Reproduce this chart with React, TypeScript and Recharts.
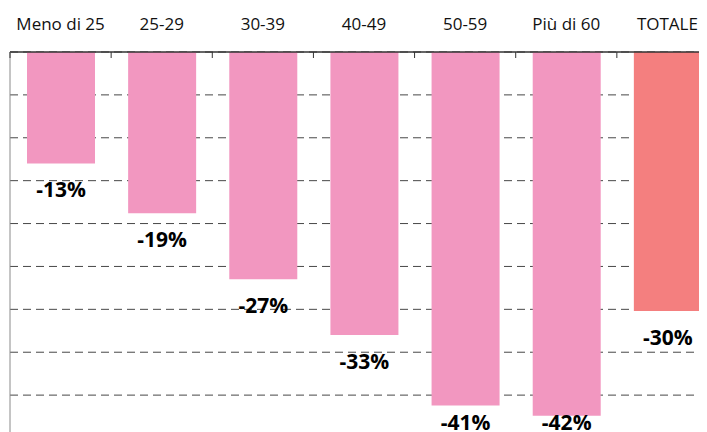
import React from 'react';
import { BarChart, Bar, XAxis, YAxis, CartesianGrid, Cell, LabelList } from 'recharts';

const categories = ['Meno di 25', '25-29', '30-39', '40-49', '50-59', 'Più di 60', 'TOTALE'];
const variation = [-13.0, -18.8, -26.5, -33.0, -41.2, -42.4, -30.2];
const valueLabels = ['-13%', '-19%', '-27%', '-33%', '-41%', '-42%', '-30%'];
const barColors = ['#F297C0', '#F297C0', '#F297C0', '#F297C0', '#F297C0', '#F297C0', '#F47F7F'];
const yTicks = [0, -5, -10, -15, -20, -25, -30, -35, -40, -45];

const data = categories.map((c, i) => ({ name: c, value: variation[i], label: valueLabels[i] }));

const CHART_W = 710;
const CHART_H = 432;
const AXIS_H = 44;
const TICK_SIZE = 4;
const TICK_MARGIN = 2;
const FONT = '"Open Sans", "Noto Sans", sans-serif';

const CategoryTick = (props: any) => {
  const { x, y, payload } = props;
  const axisY = y + TICK_SIZE + TICK_MARGIN;
  const half = payload && payload.offset ? payload.offset : (CHART_W - 2) / categories.length / 2;
  return (
    <g>
      <line x1={x - half} x2={x - half} y1={axisY} y2={axisY + 6} stroke="#333" strokeWidth={1} />
      <text x={x} y={axisY - 22.5} textAnchor="middle" fontFamily={FONT} fontSize={17} fill="#111">
        {payload.value}
      </text>
    </g>
  );
};

const EmptyTick = () => <g />;

const ValueLabel = (props: any) => {
  const { x, y, width, height, index } = props;
  const bottom = Math.max(y, y + height);
  const baseline = Math.min(bottom + 33.5, CHART_H - 10);
  return (
    <text
      x={x + width / 2}
      y={baseline}
      textAnchor="middle"
      fontFamily={FONT}
      fontWeight="bold"
      fontSize={21}
      fill="#000"
    >
      {valueLabels[index]}
    </text>
  );
};

export default function App() {
  return (
    <div style={{ width: 699, height: 424, overflow: 'hidden' }}>
      <BarChart
        width={CHART_W}
        height={CHART_H}
        data={data}
        margin={{ top: 0, right: 0, bottom: 2, left: 1 }}
      >
        <CartesianGrid horizontal vertical={false} stroke="#474747" strokeDasharray="8 5" />
        <XAxis
          dataKey="name"
          orientation="top"
          height={AXIS_H}
          tickSize={TICK_SIZE}
          tickMargin={TICK_MARGIN}
          tickLine={false}
          axisLine={{ stroke: '#333', strokeWidth: 1.3 }}
          tick={<CategoryTick />}
          interval={0}
        />
        <YAxis
          width={1}
          type="number"
          domain={[-45, 0]}
          ticks={yTicks}
          tick={<EmptyTick />}
          tickLine={false}
          axisLine={{ stroke: '#8a8a8a' }}
          allowDataOverflow
        />
        <Bar dataKey="value" barSize={68} isAnimationActive={false}>
          {data.map((d, i) => (
            <Cell key={d.name} fill={barColors[i]} />
          ))}
          <LabelList dataKey="value" content={<ValueLabel />} />
        </Bar>
      </BarChart>
    </div>
  );
}
